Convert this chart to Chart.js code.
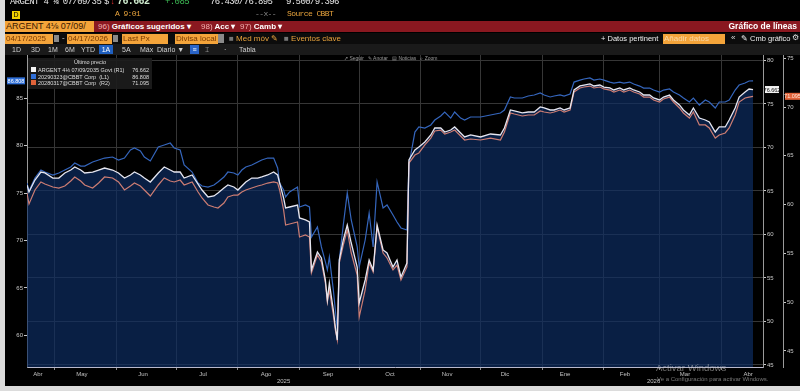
<!DOCTYPE html>
<html>
<head>
<meta charset="utf-8">
<script src="https://cdn.jsdelivr.net/npm/chart.js@4.4.1/dist/chart.umd.min.js"></script>
<title>ARGENT 4⅛ 07/09/35 - Gráfico de líneas</title>
<style>
	body { margin: 0; width: 800px; height: 391px; overflow: hidden; position: relative; background: #dcdcdc; font-family: 'Liberation Sans', Arial, sans-serif; }
	#marco { position: absolute; left: 5px; top: 0; width: 795px; height: 386px; background: #000; }
	#grafico { position: absolute; left: 0; top: 0; }
	.t { position: absolute; white-space: nowrap; line-height: 1; }
	.mono { font-family: 'Liberation Mono', 'DejaVu Sans Mono', monospace; font-size: 9px; letter-spacing: -0.6px; }
	.caja { position: absolute; background: #f4a43a; color: #7a3a00; font-size: 8px; line-height: 10px; padding-left: 1px; white-space: nowrap; overflow: hidden; }
	.gris { position: absolute; background: #8a8a8a; }
	.naranja { color: #e8a33c; }
	.r5 { font-size: 7px; color: #d0d0d0; top: 46px; }
	#leyenda { position: absolute; left: 28px; top: 58px; width: 124px; height: 31px; background: rgba(28,28,28,0.92); font-size: 5.5px; color: #dedede; }
	#leyenda .fila { position: absolute; left: 0; width: 124px; height: 6px; }
	#leyenda .cuad { position: absolute; left: 3px; top: 0; width: 5px; height: 5px; }
	#leyenda .nom { position: absolute; left: 10px; top: 0; }
	#leyenda .val { position: absolute; right: 3px; top: 0; }
	.aviso { color: rgba(210,210,210,0.55); }
</style>
</head>
<body>
<div id="marco"></div>
<canvas id="grafico" width="800" height="391"></canvas>

<!-- fila 1: cotizacion -->
<div class="t mono" style="left:10px; top:-2px; color:#e6e6e6;">ARGENT 4 ⅛ 07/09/35</div>
<div class="t mono" style="left:104px; top:-2px; color:#e6e6e6;">$</div>
<div class="t mono" style="left:110px; top:-2px; color:#e03030;">↓</div>
<div class="t mono" style="left:117px; top:-3px; color:#cfeccf; font-weight:bold; font-size:10px;">76.662</div>
<div class="t mono" style="left:165px; top:-2px; color:#3cba54;">+.085</div>
<div class="t mono" style="left:210px; top:-2px; color:#e6e6e6;">76.430/76.895</div>
<div class="t mono" style="left:286px; top:-2px; color:#e6e6e6;">9.500/9.396</div>

<!-- fila 2 -->
<div class="t" style="left:12px; top:11px; width:8px; height:8px; background:#f0d000; color:#000; font-size:7px; text-align:center; line-height:8px;">D</div>
<div class="t mono naranja" style="left:115px; top:10px; font-size:8px;">A 9:01</div>
<div class="t mono" style="left:255px; top:10px; font-size:8px; color:#888;">--x--</div>
<div class="t mono naranja" style="left:287px; top:10px; font-size:8px;">Source CBBT</div>

<!-- fila 3: barra roja -->
<div class="t" style="left:5px; top:21px; width:795px; height:11px; background:#8a1820;"></div>
<div class="caja" style="left:5px; top:21px; width:88px; height:11px; font-size:9px; color:#3a1800; line-height:11px;">ARGENT 4⅛ 07/09/</div>
<div class="t" style="left:98px; top:22.5px; font-size:8px; font-weight:bold; color:#fff;"><span style="color:#f3b0b0; font-weight:normal;">96)</span> Gráficos sugeridos ▾</div>
<div class="t" style="left:201px; top:22.5px; font-size:8px; font-weight:bold; color:#fff;"><span style="color:#f3b0b0; font-weight:normal;">98)</span> Acc ▾</div>
<div class="t" style="left:240px; top:22.5px; font-size:8px; font-weight:bold; color:#fff;"><span style="color:#f3b0b0; font-weight:normal;">97)</span> Camb ▾</div>
<div class="t" style="right:3px; top:22px; font-size:8.5px; font-weight:bold; color:#fff;">Gráfico de líneas</div>

<!-- fila 4 -->
<div class="t" style="left:5px; top:33px; width:795px; height:11px; background:#0c0c0c;"></div>
<div class="caja" style="left:5px; top:33.5px; width:47px; height:10px;">04/17/2025</div>
<div class="gris" style="left:54px; top:35px; width:5px; height:7px;"></div>
<div class="t" style="left:62px; top:34px; font-size:8px; color:#ddd;">-</div>
<div class="caja" style="left:67px; top:33.5px; width:44px; height:10px;">04/17/2026</div>
<div class="gris" style="left:113px; top:35px; width:5px; height:7px;"></div>
<div class="caja" style="left:122px; top:33.5px; width:45px; height:10px;">Last Px</div>
<div class="caja" style="left:175px; top:33.5px; width:42px; height:10px;">Divisa local</div>
<div class="gris" style="left:218px; top:34px; width:6px; height:9px;"></div>
<div class="t" style="left:229px; top:34.5px; font-size:8px;"><span style="color:#777;">■</span> <span class="naranja">Med móv ✎</span></div>
<div class="t" style="left:284px; top:34.5px; font-size:8px;"><span style="color:#777;">■</span> <span class="naranja">Eventos clave</span></div>
<div class="t" style="left:601px; top:34.5px; font-size:7.5px; color:#eee;">+ Datos pertinent</div>
<div class="caja" style="left:663px; top:33.5px; width:61px; height:10px; color:#f8d8a8;">Añadir datos</div>
<div class="t" style="left:731px; top:34px; font-size:8px; color:#ddd;">«</div>
<div class="t" style="left:741px; top:34.5px; font-size:7.5px; color:#eee;">✎ Cmb gráfico</div>
<div class="t" style="left:792px; top:34px; font-size:8px; color:#ddd;">⚙</div>

<!-- fila 5 -->
<div class="t" style="left:5px; top:44px; width:795px; height:11px; background:#1a1a1a;"></div>
<div class="t r5" style="left:12px;">1D</div>
<div class="t r5" style="left:31px;">3D</div>
<div class="t r5" style="left:48px;">1M</div>
<div class="t r5" style="left:65px;">6M</div>
<div class="t r5" style="left:81px;">YTD</div>
<div class="t r5" style="left:99px; top:45px; width:14px; height:9px; background:#1f5fbf; color:#fff; text-align:center; line-height:9px;">1A</div>
<div class="t r5" style="left:122px;">5A</div>
<div class="t r5" style="left:140px;">Máx</div>
<div class="t r5" style="left:157px;">Diario ▼</div>
<div class="t r5" style="left:190px; top:45px; width:9px; height:9px; background:#2a64c8; color:#fff; text-align:center; line-height:9px;">≡</div>
<div class="t r5" style="left:205px;">⌶</div>
<div class="t r5" style="left:224px;">·</div>
<div class="t r5" style="left:239px;">Tabla</div>

<!-- barra de herramientas del grafico -->
<div class="t" style="left:344px; top:55.5px; font-size:5px; color:#9a9a9a;">↗ Seguir &nbsp; ✎ Anotar &nbsp; ▤ Noticias &nbsp; ⌕ Zoom</div>

<!-- leyenda -->
<div id="leyenda">
	<div class="t" style="left:0; top:2px; width:124px; text-align:center;">Último precio</div>
	<div class="fila" style="top:9px;"><span class="cuad" style="background:#f4f4f4;"></span><span class="nom">ARGENT 4⅛ 07/09/2035 Govt (R1)</span><span class="val" id="v1"></span></div>
	<div class="fila" style="top:15.5px;"><span class="cuad" style="background:#2f6fd8;"></span><span class="nom">20290323@CBBT Corp &nbsp;(L1)</span><span class="val" id="v2"></span></div>
	<div class="fila" style="top:22px;"><span class="cuad" style="background:#e0633a;"></span><span class="nom">20280317@CBBT Corp &nbsp;(R2)</span><span class="val" id="v3"></span></div>
</div>

<!-- marca de agua -->
<div class="t aviso" style="left:656px; top:363px; font-size:9.5px;">Activar Windows</div>
<div class="t aviso" style="left:657px; top:375.5px; font-size:6px;">Ve a Configuración para activar Windows.</div>

<script>
	// dias desde el 17/04/2025
	var dias = [0, 1, 4, 7, 9, 13, 16, 19, 22, 24, 27, 29, 33, 36, 39, 43, 46, 49, 52, 54, 57, 59, 62, 66,
		69, 72, 74, 77, 79, 83, 86, 88, 91, 94, 96, 99, 101, 104, 106, 108, 110, 113, 116, 118, 121, 124, 126, 127, 129,
		130, 132, 136, 137, 140, 142, 143, 146, 148, 150, 151, 152, 154, 155, 156, 157, 159, 161, 163, 166, 167, 170, 172, 174, 176, 179, 181, 184, 186, 188, 191, 192, 195, 197,
		200, 203, 205, 208, 210, 213, 215, 218, 220, 223, 228, 233, 238, 240, 243, 245, 249, 252, 255, 258, 260, 263,
		265, 268, 270, 273, 275, 278, 280, 283, 285, 288, 290, 293, 295, 298, 300, 303, 305, 308, 310, 313, 315, 318, 320, 323, 325, 328, 330, 333, 335, 338,
		341, 343, 346, 348, 351, 353, 356, 358, 361, 363, 365];

	// ARGENT 4 1/8 07/09/2035 Govt (R1)
	var argent = [65.69, 64.89, 66.26, 67.18, 67.07, 66.49, 66.49, 67.07, 67.41, 67.76, 67.41, 67.07, 67.18, 67.41, 67.64, 67.41, 67.07, 66.49, 66.84, 67.18, 66.84, 66.49, 66.03, 67.07,
		67.76, 67.41, 67.18, 67.18, 66.49, 66.84, 65.80, 65.11, 64.31, 64.43, 64.77, 65.34, 65.69, 65.46, 65.11, 65.57, 66.03, 66.49, 66.49, 66.61, 66.84, 67.18, 66.84, 65.92, 64.20,
		63.05, 63.16, 63.39, 61.90, 61.67, 61.44, 55.92, 57.99, 57.30, 54.77, 52.47, 54.43, 51.32, 49.37, 47.87, 57.07, 59.37, 61.09, 59.02, 56.26, 52.13, 54.77, 57.07, 55.92, 61.09, 58.22, 57.87, 56.26, 57.07, 55.11, 56.72, 68.56, 69.71, 70.06,
		70.63, 71.44, 72.24, 72.24, 71.78, 72.01, 72.36, 71.67, 71.21, 71.44, 71.21, 71.55, 71.44, 72.24, 74.31, 74.20, 73.97, 74.08, 74.08, 74.66, 74.54, 74.31,
		74.31, 74.54, 74.31, 74.54, 76.61, 77.07, 77.18, 77.30, 77.07, 77.18, 76.95, 76.84, 76.61, 76.84, 76.61, 76.84, 76.61, 76.38, 76.03, 76.03, 75.69, 75.46, 75.80, 76.03, 75.46, 74.89, 74.31, 73.74, 74.54, 73.39,
		73.16, 72.93, 71.78, 72.36, 72.36, 73.16, 74.54, 75.80, 76.38, 76.72, 76.662];

	// 20290323@CBBT Corp (L1)
	var bono2029 = [76.05, 75.21, 76.58, 77.42, 77.21, 76.89, 77.11, 77.42, 77.74, 78.16, 77.84, 77.84, 78.26, 78.47, 78.68, 78.79, 78.47, 78.68, 79.53, 79.74, 79.42, 78.79, 78.37, 79.84,
		80.05, 80.26, 79.74, 79.53, 77.95, 77.21, 76.05, 75.74, 75.63, 75.84, 76.16, 76.68, 77.21, 77.11, 76.89, 77.42, 77.74, 77.95, 78.26, 78.47, 78.68, 78.68, 77.63, 76.05, 75.32,
		74.58, 75.11, 75.63, 73.53, 73.74, 73.53, 70.37, 71.42, 69.32, 67.74, 66.89, 68.26, 64.79, 62.68, 60.58, 67.95, 71.63, 75.00, 72.16, 69.32, 67.21, 70.05, 72.89, 69.32, 76.16, 73.42, 73.74, 72.68, 71.95, 71.32, 71.11, 77.95, 81.42, 81.95,
		81.84, 82.16, 82.68, 83.11, 83.53, 82.89, 83.53, 82.89, 82.68, 83.00, 83.00, 83.21, 83.42, 83.74, 85.11, 85.00, 85.00, 85.21, 85.32, 85.53, 85.32, 85.11,
		85.21, 85.32, 85.21, 85.42, 86.68, 86.89, 87.00, 87.11, 86.89, 87.00, 86.89, 86.68, 86.58, 86.68, 86.58, 86.68, 86.47, 86.26, 86.05, 86.05, 85.84, 85.63, 85.84, 85.95, 85.63, 85.32, 85.00, 84.58, 85.00, 84.26,
		84.79, 84.58, 83.95, 84.58, 84.58, 84.79, 85.84, 86.37, 86.58, 86.79, 86.808];

	// 20280317@CBBT Corp (R2)
	var bono2028 = [61.19, 60.06, 61.50, 62.32, 62.11, 61.80, 61.70, 61.91, 62.42, 62.83, 62.42, 62.01, 61.70, 62.21, 62.83, 62.73, 62.32, 61.50, 61.91, 62.21, 61.91, 61.50, 60.88, 62.01,
		62.73, 62.42, 62.32, 62.52, 62.01, 62.32, 61.29, 60.68, 59.96, 59.75, 59.65, 60.16, 60.78, 60.98, 60.98, 61.29, 61.50, 61.70, 61.91, 62.01, 62.21, 62.32, 62.21, 61.50, 59.45,
		57.91, 58.01, 58.22, 56.68, 56.89, 56.68, 53.00, 54.84, 54.12, 51.97, 50.02, 51.25, 48.69, 47.15, 46.13, 54.02, 55.86, 57.40, 55.04, 52.79, 48.48, 51.25, 54.02, 53.10, 57.70, 55.04, 54.53, 53.30, 53.81, 52.28, 53.61, 64.26, 65.08, 65.29,
		66.11, 66.82, 67.54, 67.64, 67.23, 67.44, 67.64, 67.03, 66.62, 66.72, 66.62, 66.82, 66.62, 67.44, 69.39, 69.28, 69.08, 69.18, 69.18, 69.59, 69.49, 69.39,
		69.49, 69.69, 69.49, 69.69, 71.54, 71.95, 72.05, 72.15, 71.95, 72.05, 71.85, 71.74, 71.54, 71.74, 71.54, 71.74, 71.54, 71.33, 71.02, 71.02, 70.72, 70.51, 70.82, 71.02, 70.51, 69.90, 69.39, 68.87, 69.49, 68.16,
		68.16, 67.85, 66.82, 67.13, 67.34, 67.85, 69.18, 70.51, 70.92, 71.02, 71.095];

	var meses = ['Abr', 'May', 'Jun', 'Jul', 'Ago', 'Sep', 'Oct', 'Nov', 'Dic', 'Ene', 'Feb', 'Mar', 'Abr'];
	var diasMes = [5.5, 27.6, 58.3, 88.5, 120.2, 151.3, 182.5, 211.2, 240.3, 270.5, 300.6, 330.8, 362.5];
	var inicioMes = [14, 45, 75, 106, 137, 167, 198, 228, 259, 290, 318, 349];
	var anios = ['2025', '2026'];
	var diasAnio = [129, 315];

	// marcas de los ejes verticales
	var ticksL1 = [60, 65, 70, 75, 80, 85];
	var ticksR1 = [45, 50, 55, 60, 65, 70, 75, 80];
	var ticksR2 = [45, 50, 55, 60, 65, 70, 75];

	var fuente = "'Liberation Sans', Arial, sans-serif";

	document.getElementById('v1').textContent = argent[argent.length - 1].toFixed(3);
	document.getElementById('v2').textContent = bono2029[bono2029.length - 1].toFixed(3);
	document.getElementById('v3').textContent = bono2028[bono2028.length - 1].toFixed(3);

	function puntos(valores) {
		return dias.map(function (d, i) { return { x: d, y: valores[i] }; });
	}
	function fijos(lista) {
		return function (s) { s.ticks = lista.map(function (v) { return { value: v }; }); };
	}
	function ancho(w) { return function (s) { s.width = w; }; }
	function alto(h) { return function (s) { s.height = h; }; }

	// cajas con el ultimo valor sobre cada eje
	var etiquetasFinales = {
		id: 'etiquetasFinales',
		afterDraw: function (chart) {
			var ctx = chart.ctx;
			var marcas = [
				{ ds: 0, eje: 'yR1', fondo: '#f2f2f2', tinta: '#111', w: 14 },
				{ ds: 1, eje: 'yR2', fondo: '#e0633a', tinta: '#ffe6d8', w: 15 },
				{ ds: 2, eje: 'yL', fondo: '#2f6fd8', tinta: '#fff', w: 18 }
			];
			ctx.save();
			ctx.font = '5.5px ' + fuente;
			ctx.textAlign = 'center';
			ctx.textBaseline = 'middle';
			marcas.forEach(function (m) {
				var serie = chart.data.datasets[m.ds].data;
				var valor = serie[serie.length - 1].y;
				var eje = chart.scales[m.eje];
				var y = eje.getPixelForValue(valor);
				var x0 = m.eje === 'yL' ? eje.right - m.w - 2 : eje.left + 2;
				ctx.fillStyle = m.fondo;
				ctx.fillRect(x0, y - 3.5, m.w, 7);
				ctx.fillStyle = m.tinta;
				ctx.fillText(valor.toFixed(3), x0 + m.w / 2, y + 0.5);
			});
			ctx.restore();
		}
	};

	var etiquetaEje = { padding: 1, color: '#c8c8c8', font: { family: fuente, size: 6 } };

	new Chart(document.getElementById('grafico'), {
		type: 'line',
		data: {
			datasets: [{
				label: 'ARGENT 4⅛ 07/09/2035 Govt (R1)',
				data: puntos(argent),
				yAxisID: 'yR1',
				borderColor: '#e6e6f0',
				borderWidth: 1.3,
				fill: 'start',
				backgroundColor: 'rgba(14,45,100,0.68)'
			}, {
				label: '20280317@CBBT Corp (R2)',
				data: puntos(bono2028),
				yAxisID: 'yR2',
				borderColor: 'rgb(205,125,115)',
				borderWidth: 1.2,
				fill: false
			}, {
				label: '20290323@CBBT Corp (L1)',
				data: puntos(bono2029),
				yAxisID: 'yL',
				borderColor: '#3566bd',
				borderWidth: 1.2,
				fill: false
			}]
		},
		options: {
			responsive: false,
			animation: false,
			layout: { padding: { top: 55, bottom: 5, left: 0, right: 0 } },
			elements: { point: { radius: 0 }, line: { tension: 0 } },
			plugins: {
				legend: { display: false },
				tooltip: { enabled: false },
				filler: { drawTime: 'beforeDatasetsDraw' }
			},
			scales: {
				x: {
					type: 'linear', position: 'bottom', weight: 0, min: 0, max: 370, bounds: 'data',
					afterBuildTicks: fijos(inicioMes),
					ticks: { display: false },
					grid: { color: '#363636', tickColor: '#8a8a8a', tickLength: 3 },
					border: { color: '#b8b8cc' },
					afterFit: alto(3)
				},
				xMes: {
					type: 'linear', position: 'bottom', weight: 1, min: 0, max: 370, bounds: 'data',
					afterBuildTicks: fijos(diasMes),
					ticks: { autoSkip: false, maxRotation: 0, padding: 1, color: '#c0c0c0', font: { family: fuente, size: 6 },
						callback: function (v, i) { return meses[i]; } },
					grid: { display: false, drawTicks: false },
					border: { display: false },
					afterFit: alto(8)
				},
				xAnio: {
					type: 'linear', position: 'bottom', weight: 2, min: 0, max: 370, bounds: 'data',
					afterBuildTicks: fijos(diasAnio),
					ticks: { autoSkip: false, maxRotation: 0, padding: 0, color: '#c0c0c0', font: { family: fuente, size: 6 },
						callback: function (v, i) { return anios[i]; } },
					grid: { display: false, drawTicks: false },
					border: { display: false },
					afterFit: alto(8)
				},
				yL: {
					position: 'left', min: 56.68, max: 89.53, bounds: 'data',
					afterBuildTicks: fijos(ticksL1),
					ticks: etiquetaEje,
					grid: { drawOnChartArea: false, tickLength: 3, tickColor: '#c8c8c8' },
					border: { color: '#9a9a9a' },
					afterFit: ancho(27)
				},
				yR1: {
					position: 'right', weight: 0, min: 44.77, max: 80.63, bounds: 'data',
					afterBuildTicks: fijos(ticksR1),
					ticks: etiquetaEje,
					grid: { color: '#363636', tickLength: 3, tickColor: '#c8c8c8' },
					border: { color: '#9a9a9a' },
					afterFit: ancho(20)
				},
				yR2: {
					position: 'right', weight: 1, min: 43.36, max: 75.33, bounds: 'data',
					afterBuildTicks: fijos(ticksR2),
					ticks: etiquetaEje,
					grid: { drawOnChartArea: false, tickLength: 3, tickColor: '#c8c8c8' },
					border: { color: '#9a9a9a' },
					afterFit: ancho(17)
				}
			}
		},
		plugins: [etiquetasFinales]
	});
</script>
</body>
</html>
